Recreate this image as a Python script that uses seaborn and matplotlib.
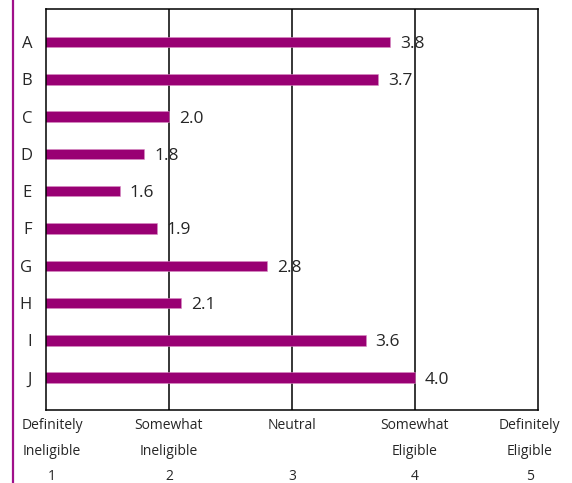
import matplotlib
matplotlib.use("Agg")
import matplotlib.pyplot as plt
import matplotlib.transforms as mtransforms
from matplotlib.lines import Line2D
import seaborn as sns

# data
categories = ["A", "B", "C", "D", "E", "F", "G", "H", "I", "J"]
scores = [3.8, 3.7, 2.0, 1.8, 1.6, 1.9, 2.8, 2.1, 3.6, 4.0]
scale_pos = [1, 2, 3, 4, 5]
scale_labels = [
    "Definitely\nIneligible\n1",
    "Somewhat\nIneligible\n2",
    "Neutral\n\n3",
    "Somewhat\nEligible\n4",
    "Definitely\nEligible\n5",
]

BAR = "#990073"
TXT = "#262626"


def main():
    sns.set_style("white")
    plt.rcParams["font.family"] = ["Open Sans", "DejaVu Sans"]

    fig = plt.figure(figsize=(5.72, 4.83), dpi=100)
    ax = fig.add_axes([0.0804, 0.151, 0.860, 0.830])

    sns.barplot(x=scores, y=categories, color=BAR, saturation=1, width=0.28,
                orient="h", ax=ax, edgecolor="#d98cc4", linewidth=0.4)

    ax.set_xlim(1, 5)
    ax.set_ylim(9.87, -0.88)

    for v in [2, 3, 4]:
        ax.axvline(v, color="black", linewidth=1.1, zorder=0)

    texts = ax.bar_label(ax.containers[0], fmt="%.1f", padding=7,
                         fontsize=12.5, color=TXT)
    for t in texts:
        t.set_va("center_baseline")

    ax.set_xticks(scale_pos)
    ax.set_xticklabels(scale_labels, fontsize=10, color=TXT, linespacing=1.95)
    ax.tick_params(axis="both", length=0)
    ax.tick_params(axis="x", pad=6)
    ax.tick_params(axis="y", pad=10, labelsize=12, labelcolor=TXT)
    ax.set_xlabel("")
    ax.set_ylabel("")

    # nudge the outer scale labels inward like the original
    labels = ax.get_xticklabels()
    labels[0].set_transform(labels[0].get_transform() +
                            mtransforms.ScaledTranslation(6 / 100, 0, fig.dpi_scale_trans))
    labels[-1].set_transform(labels[-1].get_transform() +
                             mtransforms.ScaledTranslation(-8 / 100, 0, fig.dpi_scale_trans))

    for s in ax.spines.values():
        s.set_visible(True)
        s.set_color("black")
        s.set_linewidth(1.1)

    # purple rule along the left edge of the figure
    fig.add_artist(Line2D([13 / 572, 13 / 572], [0, 1], color="#a0108a",
                          linewidth=1.6, transform=fig.transFigure))

    fig.savefig("out.png", dpi=100, facecolor="white")


if __name__ == "__main__":
    main()
